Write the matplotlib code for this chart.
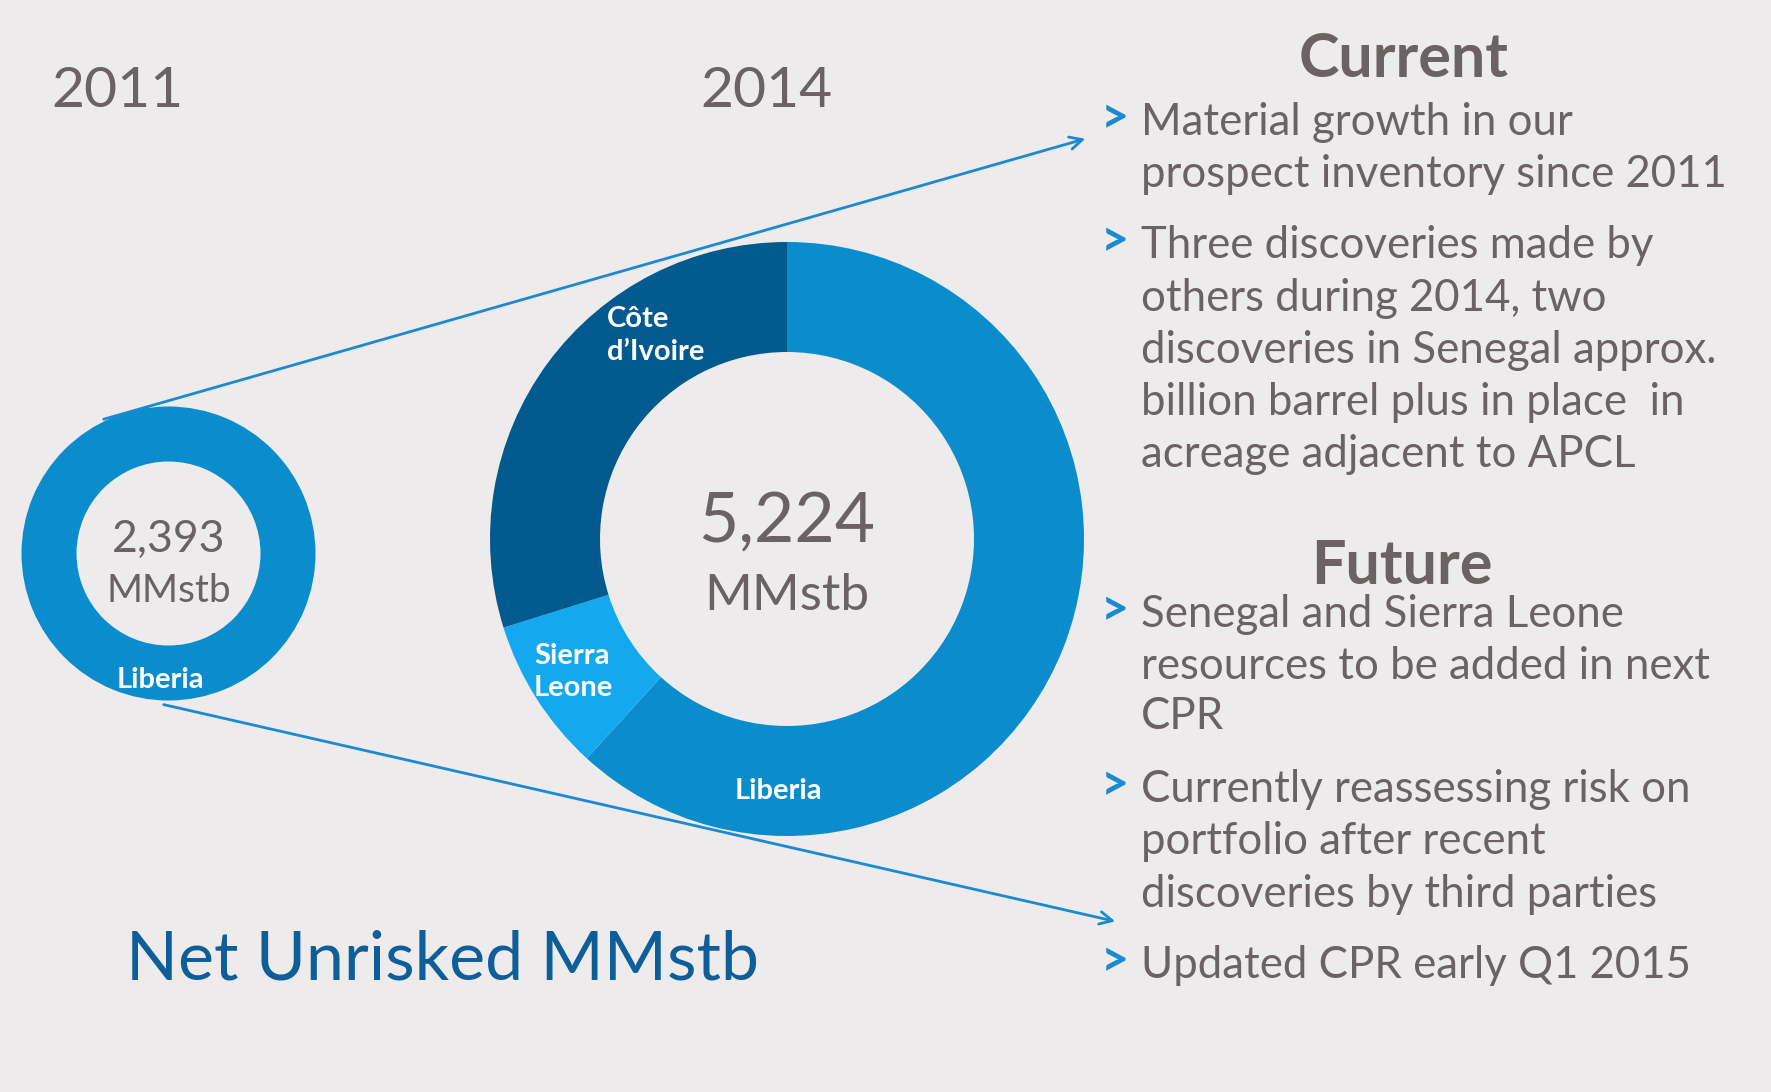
import matplotlib.pyplot as plt

# canvas in pixels, y measured from the top of the picture
W, H = 1771, 1092

years = ['2011', '2014']
totals = ['2,393', '5,224']
unit = 'MMstb'

countries_2011 = ['Liberia']
values_2011 = [2393]

countries_2014 = ['Liberia', 'Sierra\nLeone', 'Côte\nd’Ivoire']
values_2014 = [3227, 439, 1558]

current_bullets = [
    ['Material growth in our', 'prospect inventory since 2011'],
    ['Three discoveries made by', 'others during 2014, two',
     'discoveries in Senegal approx.', 'billion barrel plus in place  in',
     'acreage adjacent to APCL'],
]
future_bullets = [
    ['Senegal and Sierra Leone', 'resources to be added in next', 'CPR'],
    ['Currently reassessing risk on', 'portfolio after recent',
     'discoveries by third parties'],
    ['Updated CPR early Q1 2015'],
]
title = 'Net Unrisked MMstb'

BG = '#edebeb'
GREY = '#6a6263'
BLUE = '#0a8ccd'
DARK = '#025a8f'
LIGHT = '#14a9ee'
ARROW = '#1b8ad0'
FONT = 'Lato'


def Y(y):
    return H - y


fig = plt.figure(figsize=(W / 100, H / 100), dpi=100, facecolor=BG)
ax = fig.add_axes([0, 0, 1, 1])
ax.set_facecolor(BG)

# 2011 donut
ax.pie(values_2011, colors=[BLUE], center=(168.5, Y(553.5)), radius=147,
       startangle=90, counterclock=False, wedgeprops=dict(width=55, linewidth=0))
# 2014 donut
ax.pie(values_2014, colors=[BLUE, LIGHT, DARK], center=(787, Y(539)), radius=297,
       startangle=90, counterclock=False, wedgeprops=dict(width=110, linewidth=0))

ax.set_xlim(0, W)
ax.set_ylim(0, H)
ax.set_aspect('equal')
ax.axis('off')

# year headers
ax.text(51, Y(107), years[0], fontsize=41, color=GREY, family=FONT, ha='left', va='baseline')
ax.text(700, Y(107), years[1], fontsize=41, color=GREY, family=FONT, ha='left', va='baseline')

# totals in the middle of the donuts
ax.text(168.5, Y(552), totals[0], fontsize=32, color=GREY, family=FONT, ha='center', va='baseline')
ax.text(168.5, Y(602), unit, fontsize=28, color=GREY, family=FONT, ha='center', va='baseline')
ax.text(787, Y(542), totals[1], fontsize=50, color=GREY, family=FONT, ha='center', va='baseline')
ax.text(787, Y(610), unit, fontsize=37, color=GREY, family=FONT, ha='center', va='baseline')

# segment labels
ax.text(160, Y(688), countries_2011[0], fontsize=21, color='white', weight='bold',
        family=FONT, ha='center', va='baseline')
ax.text(778, Y(799), countries_2014[0], fontsize=21, color='white', weight='bold',
        family=FONT, ha='center', va='baseline')
for i, line in enumerate(countries_2014[1].split('\n')):
    ax.text(534, Y(664 + 32 * i), line, fontsize=21, color='white', weight='bold',
            family=FONT, ha='left', va='baseline')
for i, line in enumerate(countries_2014[2].split('\n')):
    ax.text(607, Y(327 + 33 * i), line, fontsize=21, color='white', weight='bold',
            family=FONT, ha='left', va='baseline')

# connector arrows
ax.annotate('', xy=(1088, Y(138)), xytext=(101, Y(420)),
            arrowprops=dict(arrowstyle='->,head_length=0.9,head_width=0.45', color=ARROW, lw=2))
ax.annotate('', xy=(1118, Y(922)), xytext=(161, Y(704)),
            arrowprops=dict(arrowstyle='->,head_length=0.9,head_width=0.45', color=ARROW, lw=2))

# right side text
ax.text(1404, Y(77), 'Current', fontsize=44, color=GREY, weight='bold', family=FONT,
        ha='center', va='baseline')
ax.text(1402, Y(584), 'Future', fontsize=44, color=GREY, weight='bold', family=FONT,
        ha='center', va='baseline')


def bullets(groups, baselines):
    k = 0
    for group in groups:
        for j, line in enumerate(group):
            b = baselines[k] + 4
            if j == 0:
                ax.text(1101, Y(b - 2), '>', fontsize=35, color=ARROW, weight='bold',
                        family=FONT, ha='left', va='baseline')
            ax.text(1141, Y(b), line, fontsize=31.5, color=GREY, family=FONT,
                    ha='left', va='baseline')
            k += 1


bullets(current_bullets, [131, 183, 254, 307, 359, 411, 463])
bullets(future_bullets, [623, 675, 725, 798, 850, 903, 974])

ax.text(126, Y(980), title, fontsize=49, color='#0e5e99', family=FONT,
        ha='left', va='baseline')

fig.savefig('out.png', dpi=100, facecolor=BG)
